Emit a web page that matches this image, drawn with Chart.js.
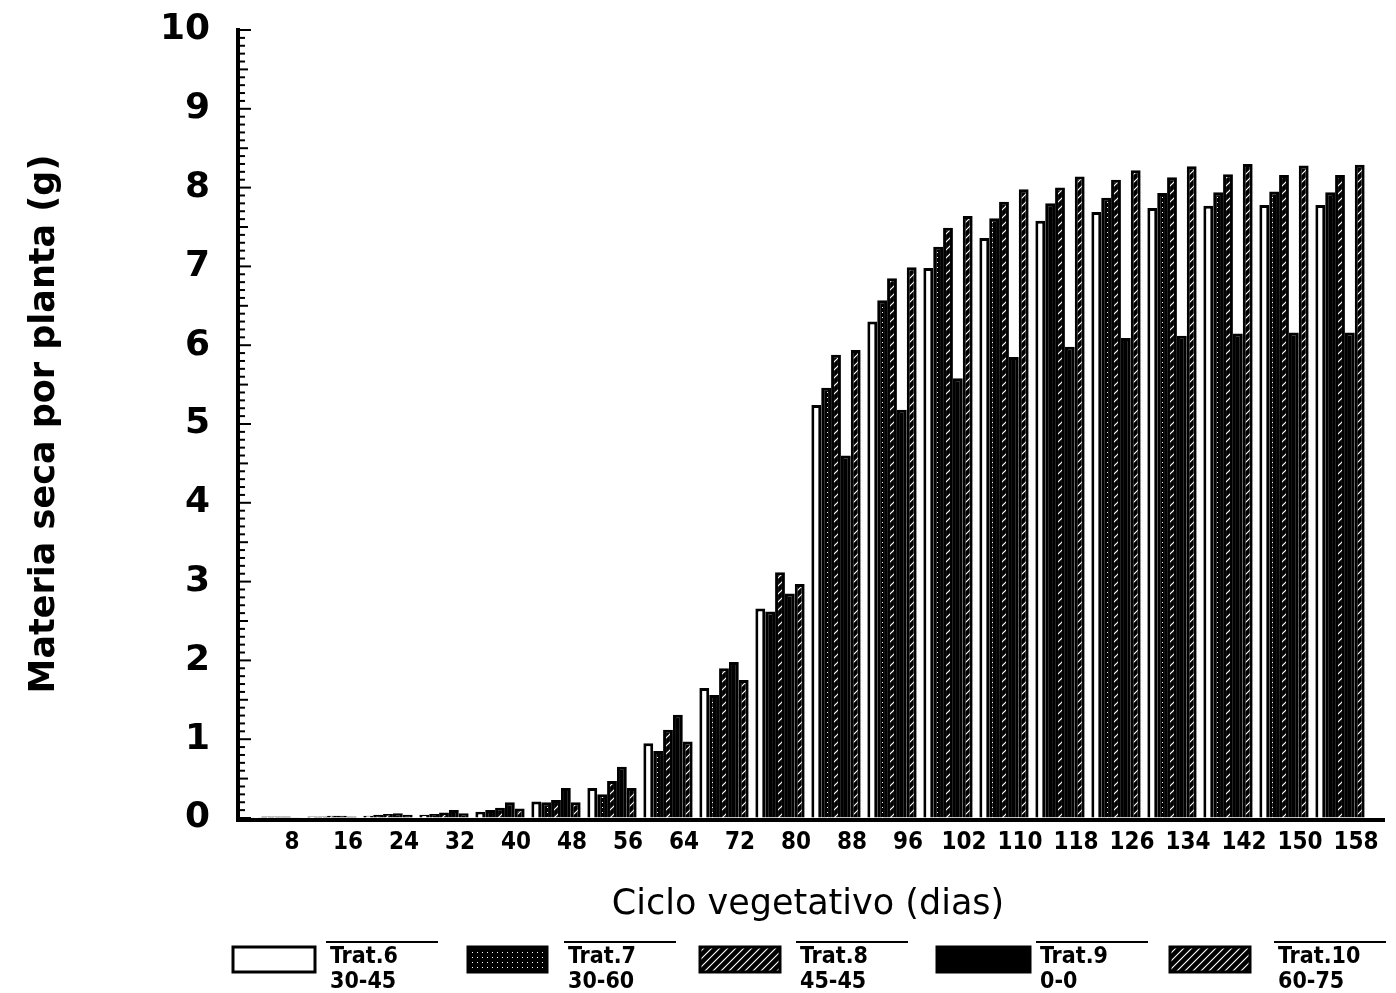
<!DOCTYPE html>
<html>
<head>
<meta charset="utf-8">
<script src="https://cdn.jsdelivr.net/npm/chart.js@4.4.1/dist/chart.umd.min.js"></script>
<style>
  html, body { margin: 0; padding: 0; background: #fff; }
  #wrap { width: 1396px; height: 993px; }
</style>
</head>
<body>
<div id="wrap"><canvas id="chart" width="1396" height="993"></canvas></div>
<script>
// days of the vegetative cycle
const dias = ['8', '16', '24', '32', '40', '48', '56', '64', '72', '80',
  '88', '96', '102', '110', '118', '126', '134', '142', '150', '158']

// dry matter per plant (g)
const trat6 = [0.01, 0.02, 0.03, 0.04, 0.08, 0.21, 0.38, 0.95, 1.65, 2.66,
  5.24, 6.30, 6.98, 7.36, 7.58, 7.69, 7.74, 7.77, 7.78, 7.78]
const trat7 = [0.02, 0.02, 0.04, 0.05, 0.10, 0.20, 0.30, 0.85, 1.56, 2.62,
  5.46, 6.57, 7.25, 7.61, 7.80, 7.87, 7.93, 7.94, 7.95, 7.94]
const trat8 = [0.02, 0.03, 0.05, 0.07, 0.13, 0.23, 0.47, 1.12, 1.90, 3.12,
  5.88, 6.85, 7.49, 7.82, 8.00, 8.10, 8.13, 8.17, 8.16, 8.16]
const trat9 = [0.02, 0.03, 0.06, 0.10, 0.20, 0.38, 0.65, 1.31, 1.98, 2.85,
  4.60, 5.18, 5.58, 5.85, 5.98, 6.09, 6.12, 6.15, 6.16, 6.16]
const trat10 = [0.01, 0.02, 0.04, 0.06, 0.12, 0.20, 0.38, 0.97, 1.75, 2.97,
  5.94, 6.99, 7.64, 7.98, 8.14, 8.22, 8.27, 8.30, 8.28, 8.29]

const legendNames = ['Trat.6', 'Trat.7', 'Trat.8', 'Trat.9', 'Trat.10']
const legendPeriods = ['30-45', '30-60', '45-45', '0-0', '60-75']

// fill patterns like the printed figure
function hatch() {
  const c = document.createElement('canvas')
  c.width = 8
  c.height = 8
  const g = c.getContext('2d')
  g.fillStyle = '#fff'
  g.fillRect(0, 0, 8, 8)
  g.strokeStyle = '#000'
  g.lineWidth = 4.5
  g.beginPath()
  g.moveTo(-2, 10); g.lineTo(10, -2)
  g.moveTo(-2, 2); g.lineTo(2, -2)
  g.moveTo(6, 10); g.lineTo(10, 6)
  g.stroke()
  return g.createPattern(c, 'repeat')
}
function dots() {
  const c = document.createElement('canvas')
  c.width = 5
  c.height = 5
  const g = c.getContext('2d')
  g.fillStyle = '#000'
  g.fillRect(0, 0, 5, 5)
  g.fillStyle = '#fff'
  g.fillRect(2, 2, 1, 1)
  return g.createPattern(c, 'repeat')
}

const fills = ['#fff', dots(), hatch(), '#000', hatch()]
const series = [trat6, trat7, trat8, trat9, trat10]

const AXIS_X = 238
const legendBoxX = [233, 468, 700, 937, 1170]
const legendBoxW = [82, 79, 80, 93, 80]
const legendTextX = [330, 568, 800, 1040, 1278]

const frame = {
  id: 'frame',
  afterDraw(chart) {
    const { ctx, scales: { y } } = chart
    const y0 = y.getPixelForValue(0)
    const y10 = y.getPixelForValue(10)
    ctx.save()
    ctx.strokeStyle = '#000'
    ctx.lineWidth = 4
    ctx.beginPath()
    ctx.moveTo(AXIS_X, y10 - 2)
    ctx.lineTo(AXIS_X, y0 + 2)
    ctx.lineTo(1385, y0 + 2)
    ctx.stroke()
    // dense inward ticks
    ctx.lineWidth = 2
    for (let v = 0; v <= 100; v++) {
      const yy = y.getPixelForValue(v / 10)
      const len = v % 10 === 0 ? 13 : (v % 5 === 0 ? 10 : 7)
      ctx.beginPath()
      ctx.moveTo(AXIS_X, yy)
      ctx.lineTo(AXIS_X + len, yy)
      ctx.stroke()
    }
    // legend
    ctx.font = 'bold 23px "DejaVu Sans Condensed", "DejaVu Sans", sans-serif'
    ctx.textBaseline = 'middle'
    for (let i = 0; i < series.length; i++) {
      ctx.fillStyle = fills[i]
      ctx.fillRect(legendBoxX[i], 947, legendBoxW[i], 25)
      ctx.lineWidth = 3
      ctx.strokeRect(legendBoxX[i], 947, legendBoxW[i], 25)
      ctx.fillStyle = '#000'
      ctx.fillText(legendNames[i], legendTextX[i], 957)
      ctx.fillText(legendPeriods[i], legendTextX[i], 982)
      ctx.lineWidth = 2
      ctx.beginPath()
      ctx.moveTo(legendTextX[i] - 4, 942)
      ctx.lineTo(legendTextX[i] + 108, 942)
      ctx.stroke()
    }
    ctx.restore()
  }
}

new Chart(document.getElementById('chart'), {
  type: 'bar',
  data: {
    labels: dias,
    datasets: series.map((d, i) => ({
      label: legendNames[i] + ' ' + legendPeriods[i],
      data: d,
      backgroundColor: fills[i],
      borderColor: '#000',
      borderWidth: 3,
      borderSkipped: 'bottom',
      categoryPercentage: 0.88,
      barPercentage: 1.0,
    })),
  },
  options: {
    responsive: false,
    animation: false,
    devicePixelRatio: 1,
    layout: { padding: { left: 14, right: 28, top: 30, bottom: 63 } },
    plugins: {
      legend: { display: false },
      tooltip: { enabled: false },
    },
    scales: {
      x: {
        grid: { display: false, drawTicks: false },
        border: { display: false },
        ticks: {
          color: '#000',
          padding: 10,
          labelOffset: 16,
          maxRotation: 0,
          autoSkip: false,
          font: { family: '"DejaVu Sans Condensed", "DejaVu Sans", sans-serif', size: 24, weight: 'bold' },
        },
        title: {
          display: true,
          text: 'Ciclo vegetativo (dias)',
          color: '#000',
          padding: { top: 0, bottom: 4 },
          font: { family: '"DejaVu Sans", sans-serif', size: 35 },
        },
        afterFit(scale) { scale.height = 112 },
      },
      y: {
        min: 0,
        max: 10,
        // invisible tick marks only push the labels away from the axis
        grid: { display: true, drawOnChartArea: false, drawTicks: true, tickLength: 34, color: 'rgba(0,0,0,0)' },
        border: { display: false },
        ticks: {
          stepSize: 1,
          color: '#000',
          padding: 4,
          font: { family: '"DejaVu Sans", sans-serif', size: 36, weight: 'bold' },
        },
        title: {
          display: true,
          text: 'Materia seca por planta (g)',
          color: '#000',
          padding: { top: 10, bottom: 0 },
          font: { family: '"DejaVu Sans", sans-serif', size: 35, weight: 'bold' },
        },
        afterFit(scale) { scale.width = 234 },
      },
    },
  },
  plugins: [frame],
})
</script>
</body>
</html>
